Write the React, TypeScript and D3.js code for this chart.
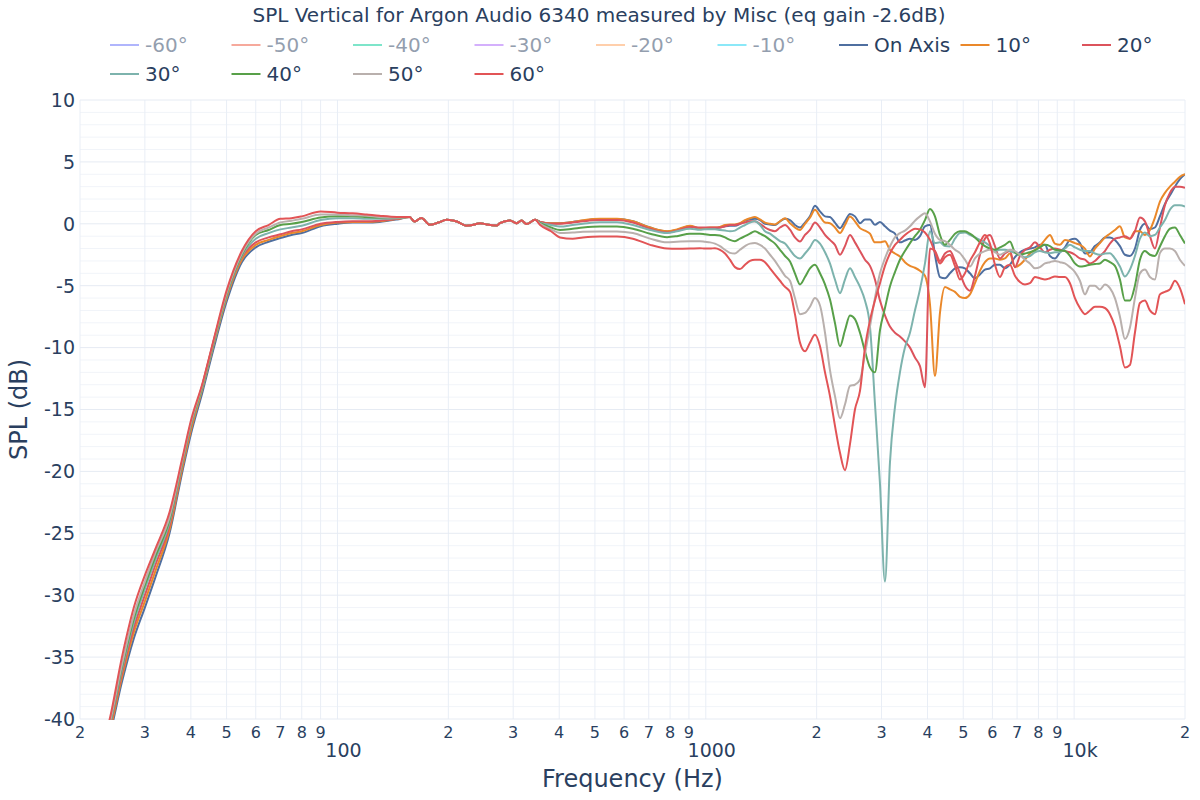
import React from 'react';
import * as d3 from 'd3';

// ---------- data ----------
const FREQ_LO = [20, 22, 24, 26, 28, 30, 32, 35, 38, 40, 43, 46, 50, 55, 60, 65, 70, 75, 80, 90, 100, 110, 120, 130, 145];

const BASS_ON = [-50, -45, -41.5, -37, -33.5, -31.0, -28.6, -25.0, -19.9, -17.0, -13.6, -10.2, -6.3, -3.1, -1.9, -1.45, -1.15, -0.9, -0.75, -0.2, 0.0, 0.1, 0.1, 0.15, 0.35];
const BASS_10 = [-49.5, -44.7, -41.2, -36.6, -33.0, -30.5, -28.1, -24.7, -19.6, -16.7, -13.3, -9.9, -6.0, -2.9, -1.7, -1.3, -1.0, -0.75, -0.6, -0.1, 0.1, 0.15, 0.15, 0.2, 0.4];
const BASS_20 = [-49, -44.4, -40.9, -36.3, -32.6, -30.0, -27.6, -24.4, -19.3, -16.4, -13.0, -9.6, -5.8, -2.7, -1.5, -1.1, -0.85, -0.6, -0.45, 0.0, 0.15, 0.2, 0.2, 0.25, 0.4];
const BASS_30 = [-48.8, -44.2, -40.7, -36.0, -32.2, -29.5, -27.2, -24.1, -19.2, -16.3, -13.2, -9.8, -5.8, -2.6, -1.2, -0.75, -0.45, -0.3, -0.15, 0.3, 0.45, 0.45, 0.4, 0.4, 0.45];
const BASS_40 = [-48.6, -44.0, -40.6, -35.8, -31.9, -29.2, -26.9, -23.9, -19.1, -16.2, -13.1, -9.7, -5.7, -2.5, -0.9, -0.5, -0.1, 0.0, 0.15, 0.5, 0.6, 0.6, 0.55, 0.5, 0.5];
const BASS_50 = [-48.4, -43.8, -40.5, -35.6, -31.6, -28.9, -26.6, -23.7, -19.0, -16.1, -13.0, -9.6, -5.6, -2.4, -0.8, -0.3, 0.1, 0.25, 0.4, 0.75, 0.75, 0.7, 0.65, 0.55, 0.5];
const BASS_60 = [-48, -43.5, -40.2, -35, -31.0, -28.4, -26.3, -23.3, -18.8, -15.9, -12.9, -9.5, -5.4, -2.2, -0.6, -0.1, 0.4, 0.45, 0.6, 1.0, 0.9, 0.85, 0.75, 0.65, 0.55];

// region where all angles coincide
const FREQ_MID = [157, 162, 169, 178, 188, 198, 211, 224, 234, 244, 254, 271, 276, 294, 307, 316, 326, 344];
const MID_ALL = [0.54, 0.19, 0.46, -0.08, 0.1, 0.32, 0.19, -0.16, -0.08, 0.05, -0.05, -0.13, 0.05, 0.27, 0.05, 0.27, -0.02, 0.32];

const FREQ_HI = [355, 380, 402, 435, 464, 516, 574, 634, 706, 785, 835, 906,
  964, 995, 1027, 1059, 1093, 1128, 1163, 1200, 1238, 1278,
  1318, 1360, 1403, 1448, 1494, 1541, 1590, 1641, 1693, 1746,
  1802, 1859, 1918, 1979, 2042, 2107, 2173, 2242, 2314, 2387,
  2463, 2541, 2622, 2705, 2791, 2879, 2971, 3065, 3162, 3263,
  3366, 3473, 3584, 3697, 3815, 3936, 4061, 4190, 4323, 4460,
  4601, 4748, 4898, 5054, 5214, 5380, 5550, 5727, 5908, 6096,
  6290, 6489, 6695, 6908, 7127, 7353, 7587, 7828, 8076, 8332,
  8597, 8870, 9151, 9442, 9742, 10051, 10370, 10699, 11039, 11389,
  11751, 12124, 12509, 12906, 13316, 13738, 14174, 14624, 15089, 15568,
  16062, 16572, 17098, 17641, 18201, 18779, 19375, 20000];

const HI_ON = [0.15, 0.05, 0.05, 0.15, 0.25, 0.38, 0.38, 0.2, -0.3, -0.62, -0.5, -0.2,
  -0.4, -0.4, -0.35, -0.35, -0.3, -0.2, -0.15, -0.15, 0.0, 0.25,
  0.35, 0.4, 0.3, 0.0, -0.05, -0.1, 0.2, 0.4, 0.3, -0.1,
  -0.3, 0.1, 0.6, 1.45, 1.0, 0.6, 0.55, 0.1, -0.35, 0.2,
  0.8, 0.6, 0.05, 0.35, 0.35, -0.08, 0.15, -0.2, -0.55, -0.8,
  -1.5, -1.35, -1.2, -1.3, -1.0, -0.2, -0.1, -2.5, -4.3, -4.4,
  -4.0, -3.6, -3.5, -3.6, -4.0, -4.4, -4.1, -3.7, -3.6, -3.3,
  -3.3, -3.6, -3.3, -2.7, -2.3, -2.1, -2.0, -1.9, -1.7, -1.7,
  -2.6, -2.8, -2.3, -1.9, -1.3, -1.2, -1.56, -2.4, -2.3, -1.8,
  -1.5, -1.1, -1.1, -1.3, -1.8, -2.5, -2.6, -2.0, -0.5, 0.0,
  -0.43, -0.3, 0.6, 1.6, 2.3, 3.0, 3.6, 4.0];

const HI_10 = [0.15, 0.05, 0.05, 0.15, 0.28, 0.4, 0.4, 0.2, -0.3, -0.6, -0.45, -0.15,
  -0.35, -0.35, -0.3, -0.3, -0.25, -0.1, -0.05, -0.05, 0.05, 0.3,
  0.45, 0.55, 0.35, 0.1, 0.0, -0.05, 0.2, 0.45, 0.05, -0.3,
  -0.5, 0.0, 0.5, 1.13, 0.6, 0.1, 0.05, -0.3, -0.75, -0.1,
  0.59, 0.2, -0.35, -0.55, -0.8, -1.5, -1.5, -1.4, -2.1, -2.4,
  -2.64, -3.1, -3.4, -3.55, -3.8, -4.2, -6.5, -12.3, -7.2, -5.1,
  -5.3, -5.5, -5.9, -6.0, -5.7, -4.8, -3.8, -3.1, -2.8, -2.8,
  -2.9, -2.8, -2.4, -3.5, -3.3, -2.9, -2.4, -2.1, -1.8, -1.3,
  -0.9, -1.6, -1.7, -1.3, -1.4, -1.56, -1.7, -2.0, -2.64, -2.0,
  -1.56, -1.1, -0.8, -0.5, -0.2, -1.1, -1.2, -0.6, -0.6, -0.9,
  -0.5, 0.5, 1.8, 2.5, 3.0, 3.4, 3.8, 4.0];

const HI_20 = [0.15, 0.0, 0.0, 0.1, 0.2, 0.3, 0.3, 0.1, -0.4, -0.7, -0.55, -0.25,
  -0.3, -0.3, -0.3, -0.3, -0.3, -0.2, -0.1, -0.1, 0.0, 0.1,
  0.2, 0.2, 0.0, -0.3, -0.5, -0.6, -0.3, -0.1, -0.48, -1.1,
  -1.43, -0.9, -0.5, 0.1, -0.3, -0.89, -1.3, -1.7, -2.5, -1.8,
  -0.9, -1.5, -2.2, -2.9, -3.4, -4.5, -6.2, -7.4, -8.3, -8.8,
  -9.1, -9.5, -10.0, -10.8, -11.5, -13.2, -2.0, -2.2, -3.0, -2.4,
  -2.2, -3.0, -4.0, -5.0, -5.4, -4.2, -2.5, -1.2, -0.9, -1.8,
  -2.8, -2.4, -2.2, -3.5, -2.6, -2.1, -1.9, -1.5, -1.9, -2.3,
  -2.1, -2.0, -2.1, -2.2, -2.3, -2.5, -2.8, -2.9, -3.2, -3.0,
  -2.6, -2.2, -1.6, -1.2, -1.1, -1.0, -1.2, -0.6, 0.5, 0.2,
  -1.0, -2.0, -0.3, 1.5, 2.5, 3.0, 3.0, 2.9];

const HI_30 = [0.1, -0.1, -0.22, -0.1, 0.0, 0.13, 0.13, -0.1, -0.5, -0.75, -0.6, -0.4,
  -0.48, -0.45, -0.45, -0.45, -0.5, -0.55, -0.6, -0.55, -0.3, -0.1,
  0.1, 0.2, -0.1, -0.6, -0.8, -1.1, -1.4, -1.6, -2.1, -2.6,
  -2.8, -2.4, -1.9, -1.3, -1.6, -2.3, -3.2, -4.5, -5.6, -4.5,
  -3.6, -4.3, -5.1, -6.2, -8.3, -14.5, -21.0, -28.9, -19.3, -14.8,
  -12.0, -10.0, -8.8, -7.0, -5.3, -3.2, -0.6, -1.56, -1.5, -1.8,
  -1.83, -1.2, -0.75, -0.7, -0.9, -1.1, -1.3, -1.5, -1.8, -2.2,
  -2.1, -2.1, -2.2, -2.35, -2.5, -2.7, -2.6, -2.3, -2.2, -2.3,
  -2.37, -2.3, -2.3, -2.0, -1.7, -1.9, -2.1, -2.2, -2.2, -2.4,
  -2.5, -2.4, -2.37, -2.8, -3.45, -4.25, -3.7, -2.6, -1.2, -0.7,
  -1.0, -0.9, -0.3, 0.3, 1.13, 1.5, 1.5, 1.4];

const HI_40 = [0.05, -0.3, -0.5, -0.4, -0.3, -0.22, -0.22, -0.4, -0.8, -1.08, -1.0, -0.8,
  -0.8, -0.85, -0.9, -0.9, -0.95, -1.1, -1.3, -1.4, -1.2, -1.0,
  -0.8, -0.6, -0.8, -1.0, -1.3, -1.6, -2.1, -2.6, -3.04, -4.0,
  -4.9, -4.3, -3.6, -3.3, -4.0, -4.9, -6.1, -8.0, -9.9, -8.6,
  -7.4, -7.7, -8.8, -10.3, -11.6, -12.0, -8.6, -6.8, -5.06, -3.9,
  -2.9, -2.2, -1.56, -1.0, -0.48, 0.3, 1.2, 0.6, -0.9, -1.7,
  -1.3, -0.8, -0.6, -0.6, -0.8, -1.1, -1.5, -1.8, -2.0, -2.1,
  -1.9, -1.7, -1.43, -2.3, -2.5, -2.4, -2.3, -2.15, -1.9, -1.7,
  -1.8, -2.1, -2.15, -2.2, -2.6, -3.2, -3.45, -3.4, -3.3, -3.25,
  -3.2, -2.9, -3.1, -3.4, -4.5, -6.2, -6.2, -5.0, -2.9, -2.2,
  -2.5, -2.6, -1.83, -1.0, -0.4, -0.3, -0.9, -1.6];

const HI_50 = [0.0, -0.45, -0.75, -0.7, -0.65, -0.62, -0.62, -0.75, -1.2, -1.5, -1.45, -1.4,
  -1.4, -1.45, -1.5, -1.6, -1.8, -2.1, -2.35, -2.4, -2.1, -1.8,
  -1.6, -1.56, -1.7, -2.0, -2.5, -3.0, -3.6, -4.2, -4.6, -6.0,
  -7.3, -7.2, -6.7, -6.0, -6.6, -8.8, -11.8, -13.9, -15.7, -14.6,
  -13.1, -13.0, -12.6, -10.5, -8.3, -6.0, -4.0, -2.8, -1.83, -1.1,
  -0.75, -0.55, -0.2, 0.25, 0.6, 0.85, 0.2, -0.8, -1.3, -1.4,
  -1.7, -2.1, -2.37, -2.9, -3.45, -2.8, -2.4, -2.2, -2.1, -2.3,
  -2.5, -2.3, -2.1, -2.2, -2.5, -2.9, -3.2, -3.6, -3.5, -3.2,
  -3.1, -3.0, -3.1, -3.2, -3.5, -3.9, -4.6, -5.7, -5.0, -5.0,
  -5.3, -4.9, -5.2, -6.0, -7.5, -9.3, -8.4, -6.0, -4.0, -3.7,
  -4.3, -4.5, -2.37, -2.0, -2.0, -2.2, -2.9, -3.4];

const HI_60 = [-0.1, -0.6, -1.1, -1.2, -1.1, -1.02, -1.02, -1.2, -1.7, -2.0, -2.02, -2.0,
  -1.97, -2.0, -2.0, -1.97, -2.1, -2.4, -2.9, -3.5, -3.66, -3.3,
  -3.0, -2.9, -2.9, -3.1, -3.6, -4.1, -4.6, -5.1, -5.5, -7.3,
  -9.6, -10.3, -9.6, -8.97, -9.9, -12.0, -13.9, -16.3, -18.5, -19.9,
  -17.8, -15.0, -13.5, -10.0, -7.8, -6.2, -4.8, -3.4, -2.4, -1.7,
  -1.3, -0.9, -0.6, -0.4, -0.45, -0.7, -1.3, -2.3, -3.2, -2.7,
  -2.5, -3.4, -4.5, -4.0, -3.0, -2.3, -1.5, -0.9, -1.6, -3.3,
  -4.3, -3.5, -3.3, -4.2, -4.7, -4.9, -4.8, -4.3, -4.4, -4.5,
  -4.4, -4.25, -4.3, -4.3, -4.8, -6.0, -6.8, -7.3, -7.0, -6.7,
  -6.7, -6.8, -7.3, -8.3, -9.9, -11.6, -11.4, -8.8, -6.4, -6.2,
  -7.0, -7.3, -5.7, -5.5, -5.3, -4.6, -5.2, -6.5];

const LEGEND_NAMES = ['-60°', '-50°', '-40°', '-30°', '-20°', '-10°', 'On Axis', '10°', '20°', '30°', '40°', '50°', '60°'];
const LEGEND_COLORS = ['#636efa', '#EF553B', '#00cc96', '#ab63fa', '#FFA15A', '#19d3f3', '#4f6fa0', '#ea882a', '#dc535c', '#7db3ad', '#58a049', '#b9b0ad', '#e25456'];
const LEGEND_VISIBLE = [false, false, false, false, false, false, true, true, true, true, true, true, true];

const Y_TICKS = [10, 5, 0, -5, -10, -15, -20, -25, -30, -35, -40];

const TITLE = 'SPL Vertical for Argon Audio 6340 measured by Misc (eq gain -2.6dB)';

// ---------- layout ----------
const PL = 80, PR = 1185, PT = 100, PB = 719;
const FONT = 'DejaVu Sans, Verdana, sans-serif';
const TXT = '#2a3f5f';

export default function App() {
  const x = d3.scaleLog().domain([20, 20000]).range([PL, PR]);
  const y = d3.scaleLinear().domain([-40, 10]).range([PB, PT]);

  const line = d3.line<[number, number]>()
    .x(d => x(d[0]))
    .y(d => y(d[1]))
    .curve(d3.curveMonotoneX);

  const build = (bass: number[], hi: number[]): [number, number][] => [
    ...FREQ_LO.map((f, i) => [f, bass[i]] as [number, number]),
    ...FREQ_MID.map((f, i) => [f, MID_ALL[i]] as [number, number]),
    ...FREQ_HI.map((f, i) => [f, hi[i]] as [number, number]),
  ];

  const series = [
    { name: 'On Axis', color: LEGEND_COLORS[6], data: build(BASS_ON, HI_ON) },
    { name: '10°', color: LEGEND_COLORS[7], data: build(BASS_10, HI_10) },
    { name: '20°', color: LEGEND_COLORS[8], data: build(BASS_20, HI_20) },
    { name: '30°', color: LEGEND_COLORS[9], data: build(BASS_30, HI_30) },
    { name: '40°', color: LEGEND_COLORS[10], data: build(BASS_40, HI_40) },
    { name: '50°', color: LEGEND_COLORS[11], data: build(BASS_50, HI_50) },
    { name: '60°', color: LEGEND_COLORS[12], data: build(BASS_60, HI_60) },
  ];

  // vertical grid values
  const xGrid: number[] = [];
  [10, 100, 1000, 10000].forEach(dec => {
    for (let m = 1; m <= 9; m++) {
      const v = dec * m;
      if (v >= 20 && v <= 20000) xGrid.push(v);
    }
  });
  const yMinor = d3.range(-40, 11, 1);

  const legendX0 = 110, legendDX = 121.5;
  const legendRows = [45, 74];

  return (
    <svg width={1200} height={800} style={{ position: 'absolute', left: 0, top: 0, background: '#fff' }} fontFamily={FONT}>
      <defs>
        <clipPath id="plotclip">
          <rect x={PL} y={PT - 1} width={PR - PL} height={PB - PT + 2} />
        </clipPath>
      </defs>
      <rect x={0} y={0} width={1200} height={800} fill="#fff" />
      {/* minor horizontal grid */}
      {yMinor.filter(v => v % 5 !== 0).map(v => (
        <line key={'ym' + v} x1={PL} x2={PR} y1={y(v)} y2={y(v)} stroke="#f1f4f9" strokeWidth={1} />
      ))}
      {/* vertical grid */}
      {xGrid.map(v => (
        <line key={'xg' + v} x1={x(v)} x2={x(v)} y1={PT} y2={PB} stroke="#e9eef6" strokeWidth={1} />
      ))}
      {/* major horizontal grid */}
      {Y_TICKS.map(v => (
        <line key={'yg' + v} x1={PL} x2={PR} y1={y(v)} y2={y(v)} stroke="#e6ebf3" strokeWidth={1} />
      ))}

      {/* curves */}
      <g clipPath="url(#plotclip)">
        {series.map(s => (
          <path key={s.name} d={line(s.data) || ''} fill="none" stroke={s.color} strokeWidth={2} strokeLinejoin="round" />
        ))}
      </g>

      {/* y tick labels */}
      {Y_TICKS.map(v => (
        <text key={'yl' + v} x={75} y={y(v)} dy="0.36em" textAnchor="end" fontSize={19} fill={TXT}>{v}</text>
      ))}

      {/* x tick labels */}
      {xGrid.map(v => {
        const major = v === 100 || v === 1000 || v === 10000;
        if (major) {
          const lbl = v === 10000 ? '10k' : String(v);
          return <text key={'xl' + v} x={x(v) + 6} y={757} textAnchor="middle" fontSize={19} fill={TXT}>{lbl}</text>;
        }
        const digit = String(v)[0];
        return <text key={'xl' + v} x={x(v)} y={738} textAnchor="middle" fontSize={16} fill={TXT}>{digit}</text>;
      })}

      {/* axis titles */}
      <text x={(PL + PR) / 2} y={787} textAnchor="middle" fontSize={24} fill={TXT}>Frequency (Hz)</text>
      <text transform={`translate(27, ${(PT + PB) / 2}) rotate(-90)`} textAnchor="middle" fontSize={24} fill={TXT}>SPL (dB)</text>

      {/* title */}
      <text x={599} y={22} textAnchor="middle" fontSize={20} fill={TXT}>{TITLE}</text>

      {/* legend */}
      {LEGEND_NAMES.map((n, i) => {
        const row = i < 9 ? 0 : 1;
        const col = i < 9 ? i : i - 9;
        const lx = legendX0 + col * legendDX;
        const ly = legendRows[row];
        const op = LEGEND_VISIBLE[i] ? 1 : 0.5;
        return (
          <g key={'lg' + i} opacity={op}>
            <line x1={lx} x2={lx + 29} y1={ly} y2={ly} stroke={LEGEND_COLORS[i]} strokeWidth={2} />
            <text x={lx + 35} y={ly} dy="0.36em" fontSize={20} fill={TXT}>{n}</text>
          </g>
        );
      })}
    </svg>
  );
}
